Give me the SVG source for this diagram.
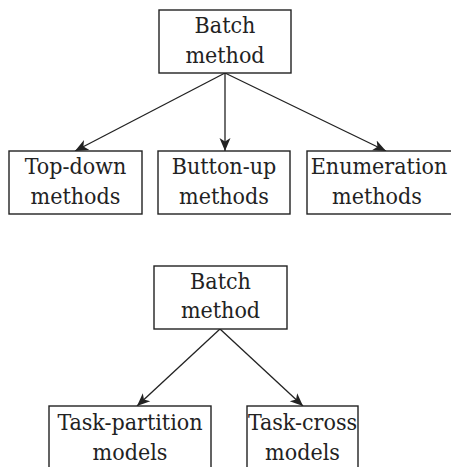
<svg xmlns="http://www.w3.org/2000/svg" width="451" height="467" viewBox="0 0 451 467">
  <style>
    .box { fill: #ffffff; stroke: #222222; stroke-width: 1.4; }
    .lbl { font-family: "DejaVu Serif Condensed", "DejaVu Serif", serif; font-stretch: condensed; font-size: 23px; fill: #222222; text-anchor: middle; }
    .edge { stroke: #222222; stroke-width: 1.3; fill: none; marker-end: url(#arrow); }
  </style>
  <defs>
    <marker id="arrow" markerUnits="userSpaceOnUse" markerWidth="14" markerHeight="12" viewBox="0 0 14 12" refX="13" refY="6" orient="auto">
      <path d="M0,0.5 L13,6 L0,11.5 L3.5,6 Z" fill="#222222"/>
    </marker>
  </defs>
  <rect width="451" height="467" fill="#ffffff"/>

  <!-- connectors -->
  <g id="connectors">
    <line class="edge" x1="225" y1="73" x2="75" y2="151"/>
    <line class="edge" x1="225" y1="73" x2="225" y2="151"/>
    <line class="edge" x1="225" y1="73" x2="386" y2="151"/>
    <line class="edge" x1="220" y1="329" x2="137" y2="406"/>
    <line class="edge" x1="220" y1="329" x2="303" y2="406"/>
  </g>

  <!-- upper tree -->
  <g id="batch-top">
    <rect class="box" x="159" y="10" width="132" height="63"/>
    <text class="lbl" x="225" y="33">Batch</text>
    <text class="lbl" x="225" y="63">method</text>
  </g>
  <g id="top-down">
    <rect class="box" x="9" y="151" width="133" height="63"/>
    <text class="lbl" x="75.5" y="174">Top-down</text>
    <text class="lbl" x="75.5" y="204">methods</text>
  </g>
  <g id="button-up">
    <rect class="box" x="158" y="151" width="132" height="63"/>
    <text class="lbl" x="224" y="174">Button-up</text>
    <text class="lbl" x="224" y="204">methods</text>
  </g>
  <g id="enumeration">
    <rect class="box" x="307" y="151" width="145" height="63"/>
    <text class="lbl" x="379" y="174">Enumeration</text>
    <text class="lbl" x="377" y="204">methods</text>
  </g>

  <!-- lower tree -->
  <g id="batch-bottom">
    <rect class="box" x="154" y="266" width="133" height="63"/>
    <text class="lbl" x="220.5" y="289">Batch</text>
    <text class="lbl" x="220.5" y="318">method</text>
  </g>
  <g id="task-partition">
    <rect class="box" x="49" y="406" width="162" height="70"/>
    <text class="lbl" x="130" y="430">Task-partition</text>
    <text class="lbl" x="130" y="460">models</text>
  </g>
  <g id="task-cross">
    <rect class="box" x="247" y="406" width="111" height="70"/>
    <text class="lbl" x="302.5" y="430">Task-cross</text>
    <text class="lbl" x="302.5" y="460">models</text>
  </g>
</svg>
